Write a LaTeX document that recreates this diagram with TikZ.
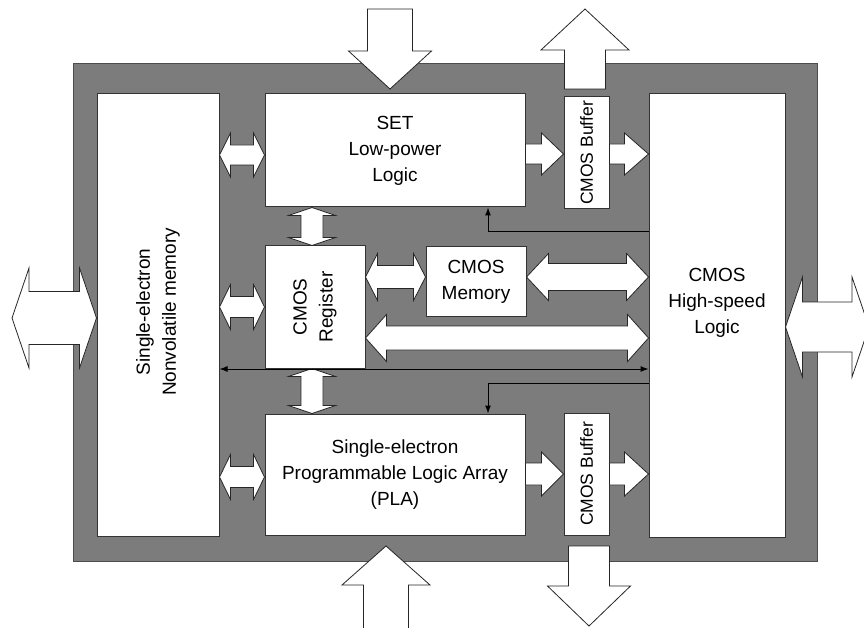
\documentclass[tikz,border=0pt]{standalone}
\usepackage{fontspec}
\setmainfont{Liberation Sans}
\usetikzlibrary{calc,arrows.meta}
\definecolor{framegray}{RGB}{124,124,124}

\tikzset{
  blk/.style={draw=black!80, fill=white, line width=1pt, inner sep=0pt, align=center,
    font=\fontsize{19}{26}\selectfont},
  txt/.style={inner sep=0pt, align=center, font=\fontsize{19}{26}\selectfont},
  buftxt/.style={inner sep=0pt, font=\fontsize{17.5}{22}\selectfont},
  blockarrow/.style={draw=black!85, fill=white, line width=0.8pt, line join=miter},
  sig/.style={draw=black, line width=1pt, -{Latex[length=8pt,width=6pt]}},
}

% block arrows: #1 start, #2 end, #3 shaft half width, #4 head half width, #5 head length
\newcommand{\hdbl}[5]{%
  \path (#1) coordinate (p1) (#2) coordinate (p2);
  \draw[blockarrow] (p1) -- ($(p1)+(#5,-#4)$) -- ($(p1)+(#5,-#3)$) -- ($(p2)+(-#5,-#3)$)
    -- ($(p2)+(-#5,-#4)$) -- (p2) -- ($(p2)+(-#5,#4)$) -- ($(p2)+(-#5,#3)$)
    -- ($(p1)+(#5,#3)$) -- ($(p1)+(#5,#4)$) -- cycle;}
\newcommand{\vdbl}[5]{%
  \path (#1) coordinate (p1) (#2) coordinate (p2);
  \draw[blockarrow] (p1) -- ($(p1)+(-#4,#5)$) -- ($(p1)+(-#3,#5)$) -- ($(p2)+(-#3,-#5)$)
    -- ($(p2)+(-#4,-#5)$) -- (p2) -- ($(p2)+(#4,-#5)$) -- ($(p2)+(#3,-#5)$)
    -- ($(p1)+(#3,#5)$) -- ($(p1)+(#4,#5)$) -- cycle;}
\newcommand{\harr}[5]{%
  \path (#1) coordinate (p1) (#2) coordinate (p2);
  \draw[blockarrow] ($(p1)+(0,-#3)$) -- ($(p2)+(-#5,-#3)$) -- ($(p2)+(-#5,-#4)$) -- (p2)
    -- ($(p2)+(-#5,#4)$) -- ($(p2)+(-#5,#3)$) -- ($(p1)+(0,#3)$) -- cycle;}
\newcommand{\varr}[5]{%
  \path (#1) coordinate (p1) (#2) coordinate (p2);
  \draw[blockarrow] ($(p1)+(-#3,0)$) -- ($(p2)+(-#3,{-(#5)})$) -- ($(p2)+(-#4,{-(#5)})$) -- (p2)
    -- ($(p2)+(#4,{-(#5)})$) -- ($(p2)+(#3,{-(#5)})$) -- ($(p1)+(#3,0)$) -- cycle;}

\begin{document}
\begin{tikzpicture}[x=1pt, y=-1pt]
  \useasboundingbox (0,0) rectangle (864,628);

  % gray frame
  \fill[framegray, draw=black!70, line width=0.6pt] (73,63) rectangle (817,561);

  % blocks
  \node[blk, minimum width=122pt, minimum height=442pt] (mem) at (158,315) {};
  \node[txt, rotate=90] at ($(mem)+(0,-3)$) {Single-electron\\Nonvolatile memory};
  \node[blk, minimum width=260pt, minimum height=113pt] (set) at (395,150.5) {SET\\Low-power\\Logic};
  \node[blk, minimum width=100pt, minimum height=122pt] (reg) at (315,307) {};
  \node[txt, rotate=90] at (reg) {CMOS\\Register};
  \node[blk, minimum width=100pt, minimum height=69pt] (cmem) at (476,281.5) {CMOS\\Memory};
  \node[blk, minimum width=45pt, minimum height=112pt] (bufa) at (586.5,153) {};
  \node[buftxt, rotate=90] at (bufa) {CMOS Buffer};
  \node[blk, minimum width=45pt, minimum height=122pt] (bufb) at (586.5,474) {};
  \node[buftxt, rotate=90] at (bufb) {CMOS Buffer};
  \node[blk, minimum width=136pt, minimum height=443pt] (hsl) at (717,315.5) {};
  \node[txt] at ($(hsl)+(0,-13)$) {CMOS\\High-speed\\Logic};
  \node[blk, minimum width=260pt, minimum height=121pt] (pla) at (395,474.5)
    {Single-electron\\Programmable Logic Array\\(PLA)};

  % links of the memory and the register
  \hdbl{mem.east |- 0,155}{set.west |- 0,155}{10}{22}{11}
  \hdbl{mem.east |- 0,307}{reg.west |- 0,307}{10.5}{22.5}{11}
  \hdbl{mem.east |- 0,477}{pla.west |- 0,477}{10.5}{22.5}{11}
  \vdbl{set.south -| 312,0}{reg.north -| 312,0}{11}{23.5}{8}
  \vdbl{reg.south -| 312,0}{pla.north -| 312,0}{11}{23.5}{8}
  \hdbl{reg.east |- 0,277}{cmem.west |- 0,277}{11.5}{23.5}{12}
  \hdbl{cmem.east |- 0,277}{hsl.west |- 0,277}{13.5}{23.5}{22}
  \hdbl{reg.east |- 0,338}{hsl.west |- 0,338}{12}{23.5}{21}

  % through the buffers
  \harr{set.east |- 0,154}{bufa.west |- 0,154}{10}{21}{22}
  \harr{bufa.east |- 0,154}{hsl.west |- 0,154}{10}{21}{24}
  \harr{pla.east |- 0,474}{bufb.west |- 0,474}{11}{22}{22}
  \harr{bufb.east |- 0,474}{hsl.west |- 0,474}{11}{22}{24}

  % ports
  \hdbl{12,318}{mem.west |- 0,318}{26.5}{50}{17}
  \hdbl{hsl.east |- 0,327}{869,327}{25}{50}{17}
  \varr{390,9}{390,89}{22.5}{41.5}{38}
  \varr{585,89}{585,9}{20.5}{44}{-41}
  \varr{386,632}{386,546}{22.5}{44}{-39}
  \varr{589,546}{589,626}{20.5}{41.5}{40}

  % control lines
  \draw[sig] (hsl.west |- 0,232) -| ([xshift=93pt]set.south);
  \draw[sig] (hsl.west |- 0,383) -| ([xshift=93pt]pla.north);
  \draw[sig, {Latex[length=8pt,width=6pt]}-{Latex[length=8pt,width=6pt]}]
    (mem.east |- 0,369) -- (hsl.west |- 0,369);
\end{tikzpicture}
\end{document}
